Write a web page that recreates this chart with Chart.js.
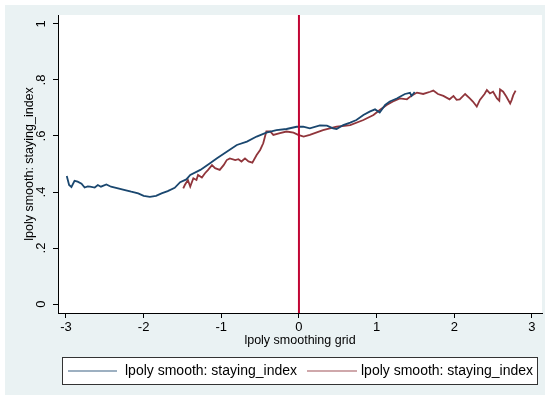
<!DOCTYPE html>
<html>
<head>
<meta charset="utf-8">
<script src="https://cdn.jsdelivr.net/npm/chart.js@4"></script>
<style>
  html, body { margin: 0; padding: 0; background: #fff; }
  #wrap { width: 545px; height: 401px; }
</style>
</head>
<body>
<div id="wrap"><canvas id="c" width="545" height="401"></canvas></div>
<script>
// Dane (dwie serie lpoly, wspólna oś X)
const blueX = [-2.99, -2.96, -2.93, -2.89, -2.85, -2.80, -2.76, -2.72, -2.69, -2.63, -2.59, -2.55, -2.48, -2.42,
  -2.33, -2.24, -2.16, -2.07, -2.00, -1.92, -1.84, -1.77, -1.69, -1.60, -1.53, -1.45, -1.40, -1.27, -1.15, -1.06,
  -0.93, -0.80, -0.67, -0.545, -0.42, -0.29, -0.16, -0.03, 0.055, 0.14, 0.27, 0.36, 0.44, 0.485, 0.57, 0.66,
  0.74, 0.83, 0.91, 0.98, 1.04, 1.11, 1.17, 1.26, 1.30, 1.365, 1.43, 1.45, 1.49];
const blueY = [.457, .425, .418, .44, .437, .43, .416, .42, .419, .416, .425, .419, .427, .419,
  .413, .407, .401, .395, .386, .383, .386, .395, .403, .415, .435, .445, .461, .479, .502, .52,
  .544, .568, .580, .598, .612, .621, .625, .633, .633, .627, .638, .637, .627, .625, .639, .648,
  .657, .675, .687, .695, .684, .711, .723, .734, .740, .75, .754, .743, .757];

const redX = [-1.49, -1.47, -1.43, -1.40, -1.36, -1.32, -1.30, -1.25, -1.21, -1.17, -1.12, -1.08, -1.02, -0.97,
  -0.93, -0.89, -0.82, -0.78, -0.74, -0.695, -0.65, -0.60, -0.545, -0.50, -0.46, -0.42, -0.37, -0.33, -0.245,
  -0.16, -0.07, -0.01, 0.06, 0.14, 0.31, 0.485, 0.66, 0.83, 0.96, 1.04, 1.13, 1.21, 1.30, 1.39, 1.45, 1.52,
  1.60, 1.69, 1.73, 1.79, 1.86, 1.94, 1.99, 2.03, 2.07, 2.14, 2.20, 2.24, 2.29, 2.33, 2.39, 2.42, 2.46, 2.50,
  2.55, 2.58, 2.59, 2.63, 2.67, 2.72, 2.74, 2.76, 2.79];
const redY = [.413, .425, .443, .419, .449, .443, .461, .452, .467, .479, .496, .485, .479, .496,
  .514, .52, .514, .517, .509, .52, .509, .505, .532, .55, .574, .616, .616, .604, .61,
  .616, .612, .604, .598, .604, .621, .633, .639, .657, .675, .693, .711, .723, .734, .731, .744, .755,
  .75, .758, .762, .75, .743, .731, .743, .729, .731, .75, .734, .723, .705, .729, .750, .764, .752, .758,
  .734, .726, .766, .758, .741, .716, .729, .746, .762];

const seriesLabels = ["lpoly smooth: staying_index", "lpoly smooth: staying_index"];
const xTicks = [-3, -2, -1, 0, 1, 2, 3];
const yTicks = [0, .2, .4, .6, .8, 1];
const refLineX = 0; // pionowa linia odniesienia

// Kolory w stylu Stata s2color
const COL = { blue: "#1a476f", red: "#90353b", ref: "#c10534", bg: "#eaf2f3" };
const FONT = "'Liberation Sans', Arial, sans-serif";

const pts = (xs, ys) => xs.map((x, i) => ({ x, y: ys[i] }));
const yLabel = v => v === 0 ? "0" : v === 1 ? "1" : String(v).replace("0.", ".");

// Tło: biała ramka, jasnoniebieski obszar wykresu, biały obszar danych
const backdrop = {
  id: "backdrop",
  beforeDraw(chart) {
    const { ctx, chartArea: a } = chart;
    ctx.save();
    ctx.fillStyle = "#fff";
    ctx.fillRect(0, 0, chart.width, chart.height);
    ctx.fillStyle = COL.bg;
    ctx.fillRect(5, 5, chart.width - 5, 390);
    ctx.fillStyle = "#fff";
    ctx.fillRect(a.left, a.top, a.right - a.left, a.bottom - a.top);
    ctx.restore();
  },
  afterDatasetsDraw(chart) {
    const { ctx, chartArea: a, scales: { x, y } } = chart;
    ctx.save();
    // linia odniesienia w x = 0
    const px = x.getPixelForValue(refLineX);
    ctx.strokeStyle = COL.ref;
    ctx.lineWidth = 2;
    ctx.beginPath();
    ctx.moveTo(px, a.top);
    ctx.lineTo(px, a.bottom);
    ctx.stroke();
    // etykiety osi Y obrócone o 90 stopni (jak w Stata)
    ctx.fillStyle = "#000";
    ctx.font = "13px " + FONT;
    ctx.textAlign = "center";
    ctx.textBaseline = "middle";
    yTicks.forEach(v => {
      ctx.save();
      ctx.translate(41, y.getPixelForValue(v));
      ctx.rotate(-Math.PI / 2);
      ctx.fillText(yLabel(v), 0, 0);
      ctx.restore();
    });
    // legenda w ramce
    const L = { left: 62, top: 357, right: 537, bottom: 384 };
    ctx.fillStyle = "#fff";
    ctx.fillRect(L.left, L.top, L.right - L.left, L.bottom - L.top);
    ctx.strokeStyle = "#333";
    ctx.lineWidth = 1;
    ctx.strokeRect(L.left + .5, L.top + .5, L.right - L.left, L.bottom - L.top);
    const cy = (L.top + L.bottom) / 2 + .5;
    const items = [
      { color: COL.blue, x0: 68, x1: 117, tx: 125 },
      { color: COL.red, x0: 307, x1: 357, tx: 361 },
    ];
    items.forEach((it, i) => {
      ctx.strokeStyle = it.color;
      ctx.globalAlpha = .85;
      ctx.lineWidth = 1.2;
      ctx.beginPath();
      ctx.moveTo(it.x0, cy);
      ctx.lineTo(it.x1, cy);
      ctx.stroke();
      ctx.globalAlpha = 1;
      ctx.fillStyle = "#000";
      ctx.textAlign = "left";
      ctx.font = "14px " + FONT;
      ctx.fillText(seriesLabels[i], it.tx, cy);
    });
    ctx.restore();
  },
};

const line = (data, color, label) => ({
  label, data, showLine: true, borderColor: color, backgroundColor: color,
  borderWidth: 1.8, pointRadius: 0, tension: 0,
});

new Chart(document.getElementById("c"), {
  type: "scatter",
  data: {
    datasets: [
      line(pts(blueX, blueY), COL.blue, seriesLabels[0]),
      line(pts(redX, redY), COL.red, seriesLabels[1]),
    ],
  },
  options: {
    responsive: false,
    animation: false,
    layout: { padding: { left: 5, top: 15, right: 3, bottom: 48 } },
    plugins: { legend: { display: false }, tooltip: { enabled: false } },
    scales: {
      x: {
        type: "linear", min: -3.103, max: 3.13,
        afterBuildTicks: s => { s.ticks = xTicks.map(value => ({ value })); },
        afterFit: s => { s.height = 40; },
        grid: { drawOnChartArea: false, drawTicks: true, tickLength: 5, color: "#000" },
        border: { display: true, color: "#000", width: 1 },
        ticks: { color: "#000", font: { family: FONT, size: 13 }, padding: 2, maxRotation: 0 },
        title: { display: true, text: "lpoly smoothing grid", color: "#000",
          font: { family: FONT, size: 12.5 }, padding: { top: 0, bottom: 5 } },
      },
      y: {
        type: "linear", min: -0.032, max: 1.032,
        afterBuildTicks: s => { s.ticks = yTicks.map(value => ({ value })); },
        afterFit: s => { s.width = 53; },
        grid: { drawOnChartArea: false, drawTicks: true, tickLength: 5, color: "#000" },
        border: { display: true, color: "#000", width: 1 },
        ticks: { display: false },
        title: { display: true, text: "lpoly smooth: staying_index", color: "#000",
          font: { family: FONT, size: 12.5 }, padding: { top: 17, bottom: 0 } },
      },
    },
  },
  plugins: [backdrop],
});
</script>
</body>
</html>
